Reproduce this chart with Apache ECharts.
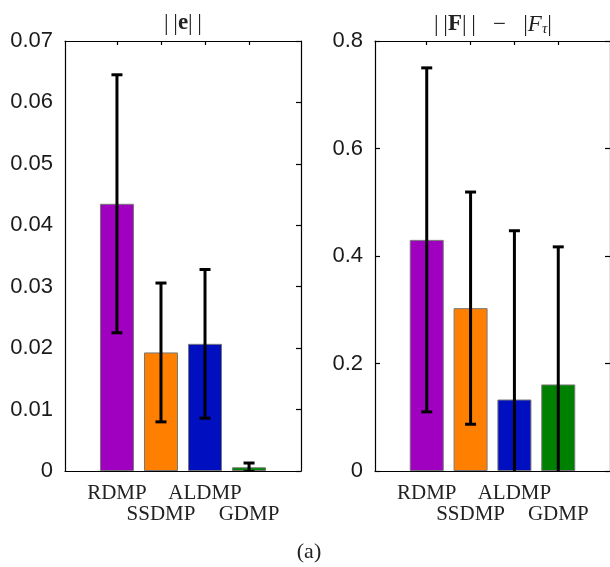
<!DOCTYPE html>
<html>
<head>
<meta charset="utf-8">
<script src="https://cdn.jsdelivr.net/npm/echarts@6/dist/echarts.min.js"></script>
<style>
  html, body { margin: 0; padding: 0; background: #fff; }
  #chart { width: 610px; height: 567px; }
</style>
</head>
<body>
<div id="chart"></div>
<script>
// Methods compared in both panels
const methods = ['RDMP', 'SSDMP', 'ALDMP', 'GDMP'];
const barColors = ['#a000c0', '#ff8000', '#0010c0', '#008000'];

// Panel 1: ||e|| (mean and standard deviation)
const errMean = [0.0435, 0.0193, 0.0207, 0.0006];
const errStd = [0.0210, 0.0113, 0.0121, 0.0007];
const errTicks = [0, 0.01, 0.02, 0.03, 0.04, 0.05, 0.06, 0.07];

// Panel 2: ||F|| - |F_tau| (mean and standard deviation)
const forceMean = [0.430, 0.303, 0.133, 0.161];
const forceStd = [0.320, 0.216, 0.314, 0.256];
const forceTicks = [0, 0.2, 0.4, 0.6, 0.8];

const positions = methods.map((_, i) => i);
const upperRow = positions.filter(i => i % 2 === 0);
const lowerRow = positions.filter(i => i % 2 === 1);
const serif = 'Liberation Serif';
const sans = 'Liberation Sans';
const axisColor = '#000';

function barData(means) {
  return means.map((v, i) => ({
    value: [i, v],
    itemStyle: { color: barColors[i] }
  }));
}

function errorData(means, stds) {
  return means.map((v, i) => [i, v - stds[i], v + stds[i]]);
}

function renderErrorBar(params, api) {
  const x = api.value(0);
  const lo = api.coord([x, api.value(1)]);
  const hi = api.coord([x, api.value(2)]);
  const half = 5.5;
  const style = { stroke: '#000', lineWidth: 3 };
  return {
    type: 'group',
    children: [
      { type: 'line', shape: { x1: hi[0], y1: hi[1], x2: lo[0], y2: lo[1] }, style },
      { type: 'line', shape: { x1: hi[0] - half, y1: hi[1], x2: hi[0] + half, y2: hi[1] }, style },
      { type: 'line', shape: { x1: lo[0] - half, y1: lo[1], x2: lo[0] + half, y2: lo[1] }, style }
    ]
  };
}

// Bottom axis (ticks + upper label row), a label-only bottom axis for the
// staggered lower row, and a top axis carrying mirrored ticks.
function xAxes(gridIndex) {
  const base = {
    type: 'value',
    gridIndex,
    min: -1.18,
    max: 4.18,
    splitLine: { show: false }
  };
  const tick = { show: true, inside: true, length: 4, customValues: positions, lineStyle: { color: axisColor, width: 1.2 } };
  const line = { show: true, onZero: false, lineStyle: { color: axisColor, width: 1.2 } };
  const label = (vals, margin) => ({
    show: true,
    customValues: vals,
    margin,
    fontFamily: serif,
    fontSize: 21,
    color: '#222',
    formatter: v => methods[Math.round(v)]
  });
  return [
    Object.assign({}, base, { position: 'bottom', axisLine: line, axisTick: tick, axisLabel: label(upperRow, 12) }),
    Object.assign({}, base, {
      position: 'bottom',
      axisLine: { show: false, onZero: false },
      axisTick: { show: false },
      axisLabel: label(lowerRow, 33)
    }),
    Object.assign({}, base, { position: 'top', axisLine: line, axisTick: tick, axisLabel: { show: false } })
  ];
}

function yAxes(gridIndex, ticks, digits, leftTicks) {
  const common = {
    type: 'value',
    gridIndex,
    min: ticks[0],
    max: ticks[ticks.length - 1],
    interval: ticks[1] - ticks[0],
    splitLine: { show: false },
    axisLine: { show: true, onZero: false, lineStyle: { color: axisColor, width: 1.2 } }
  };
  return [
    Object.assign({}, common, {
      position: 'left',
      axisTick: { show: leftTicks, inside: true, length: 5, lineStyle: { color: axisColor, width: 1.2 } },
      axisLabel: {
        margin: 12,
        fontFamily: sans,
        fontSize: 22,
        color: '#1a1a1a',
        formatter: v => (Math.abs(v) < 1e-9 ? '0' : v.toFixed(digits))
      }
    }),
    Object.assign({}, common, {
      position: 'right',
      axisTick: { show: true, inside: true, length: 5, lineStyle: { color: axisColor, width: 1.2 } },
      axisLabel: { show: false }
    })
  ];
}

const titleRich = {
  n: { fontFamily: serif, fontSize: 23, fontWeight: 'normal', fill: '#222' },
  b: { fontFamily: serif, fontSize: 23, fontWeight: 'bold', fill: '#222' },
  i: { fontFamily: serif, fontSize: 23, fontWeight: 'normal', fontStyle: 'italic', fill: '#222' },
  s: { fontFamily: serif, fontSize: 15, fontWeight: 'normal', fontStyle: 'italic', fill: '#222', padding: [10, 0, 0, 0] }
};

function titleText(x, text) {
  return {
    type: 'text',
    x,
    y: 12,
    style: { text, rich: titleRich, align: 'center', verticalAlign: 'top' }
  };
}

const chart = echarts.init(document.getElementById('chart'), null, { renderer: 'canvas' });

chart.setOption({
  animation: false,
  backgroundColor: '#fff',
  grid: [
    { left: 65, top: 41, width: 236, height: 430, show: false },
    { left: 375, top: 41, width: 236, height: 430, show: false }
  ],
  xAxis: [...xAxes(0), ...xAxes(1)],
  yAxis: [
    ...yAxes(0, errTicks, 2, false),
    ...yAxes(1, forceTicks, 1, true)
  ],
  series: [
    {
      type: 'bar',
      xAxisIndex: 0,
      yAxisIndex: 0,
      barWidth: 34,
      data: barData(errMean),
      itemStyle: { borderColor: '#777', borderWidth: 1 }
    },
    {
      type: 'custom',
      xAxisIndex: 0,
      yAxisIndex: 0,
      clip: true,
      z: 5,
      renderItem: renderErrorBar,
      data: errorData(errMean, errStd)
    },
    {
      type: 'bar',
      xAxisIndex: 3,
      yAxisIndex: 2,
      barWidth: 34,
      data: barData(forceMean),
      itemStyle: { borderColor: '#777', borderWidth: 1 }
    },
    {
      type: 'custom',
      xAxisIndex: 3,
      yAxisIndex: 2,
      clip: true,
      z: 5,
      renderItem: renderErrorBar,
      data: errorData(forceMean, forceStd)
    }
  ],
  graphic: [
    titleText(183, '{n||\u2009|}{b|e}{n||\u2009|}'),
    titleText(493, '{n||\u2009|}{b|F}{n||\u2009|   \u2212   |}{i|F}{s|τ}{n||}'),
    {
      type: 'text',
      x: 309,
      y: 541,
      style: { text: '(a)', fontFamily: serif, fontSize: 22, fill: '#222', align: 'center', verticalAlign: 'top' }
    }
  ]
});
</script>
</body>
</html>
